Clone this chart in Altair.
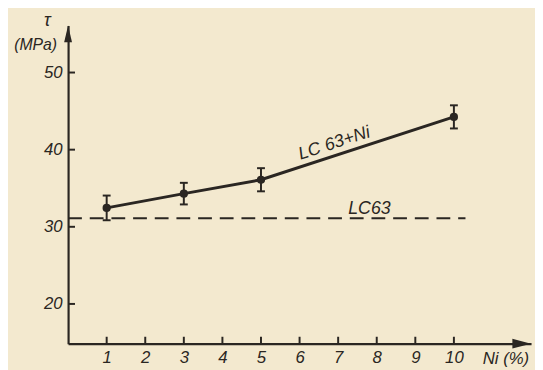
import altair as alt
import pandas as pd

# ---- data ----
ni = [1, 3, 5, 10]
tau = [32.45, 34.3, 36.1, 44.25]
err = [1.6, 1.4, 1.5, 1.5]
lc63_x = [0, 10.3]
lc63_y = [31.1, 31.1]
x_ticks = [1, 2, 3, 4, 5, 6, 7, 8, 9, 10]
y_ticks = [20, 30, 40, 50]

X_MIN, X_MAX = 0, 12.0
Y_MIN, Y_MAX = 14.85, 56.1
W, H = 470, 323

INK = "#2a2622"
BG = "#f3e9cf"
FONT = "Liberation Sans"

pts = pd.DataFrame({"ni": ni, "tau": tau, "lo": [t - e for t, e in zip(tau, err)],
                    "hi": [t + e for t, e in zip(tau, err)]})
dash = pd.DataFrame({"ni": lc63_x, "tau": lc63_y})

xs = alt.Scale(domain=[X_MIN, X_MAX], nice=False, zero=False)
ys = alt.Scale(domain=[Y_MIN, Y_MAX], nice=False, zero=False)

xax = alt.Axis(values=x_ticks, ticks=False, grid=False, domainColor=INK, domainWidth=2.2,
               labelFont=FONT, labelFontSize=17, labelFontStyle="italic", labelColor=INK,
               labelPadding=6, labelFlush=False,
               title="Ni (%)", titleFont=FONT, titleFontSize=17, titleFontStyle="italic",
               titleFontWeight="normal", titleColor=INK, titleX=444, titleY=20,
               titleAlign="center", titleBaseline="alphabetic")
yax = alt.Axis(values=y_ticks, ticks=False, grid=False, domainColor=INK, domainWidth=2.2,
               labelFont=FONT, labelFontSize=17, labelFontStyle="italic", labelColor=INK,
               labelPadding=6, title=None)

base = alt.Chart(pts)

dashed = alt.Chart(dash).mark_line(color=INK, strokeWidth=2, strokeDash=[14, 8]).encode(
    x=alt.X("ni:Q", scale=xs, axis=xax), y=alt.Y("tau:Q", scale=ys, axis=yax))
line = base.mark_line(color=INK, strokeWidth=3).encode(x=alt.X("ni:Q", scale=xs),
                                                        y=alt.Y("tau:Q", scale=ys))
dots = base.mark_circle(color=INK, size=70, opacity=1).encode(x="ni:Q", y="tau:Q")
bars = base.mark_rule(color=INK, strokeWidth=2).encode(x="ni:Q", y="lo:Q", y2="hi:Q")
cap_lo = base.mark_tick(color=INK, orient="horizontal", size=8, thickness=2, opacity=1).encode(
    x="ni:Q", y="lo:Q")
cap_hi = base.mark_tick(color=INK, orient="horizontal", size=8, thickness=2, opacity=1).encode(
    x="ni:Q", y="hi:Q")

yt = alt.Chart(pd.DataFrame({"v": y_ticks})).mark_rule(color=INK, strokeWidth=2).encode(
    y=alt.Y("v:Q", scale=ys), x=alt.value(0), x2=alt.value(7))
xt = alt.Chart(pd.DataFrame({"v": x_ticks})).mark_rule(color=INK, strokeWidth=2).encode(
    x=alt.X("v:Q", scale=xs), y=alt.value(H - 7), y2=alt.value(H))

arrows = pd.DataFrame({
    "x": [0, X_MAX - 9.5 * (X_MAX - X_MIN) / W],
    "y": [Y_MAX - 8.5 * (Y_MAX - Y_MIN) / H, Y_MIN],
})
up = alt.Chart(arrows.iloc[[0]]).mark_point(
    shape="M-0.47,1L0,-1L0.47,1Z", size=289, filled=True, color=INK, opacity=1
).encode(x=alt.X("x:Q", scale=xs), y=alt.Y("y:Q", scale=ys))
right = alt.Chart(arrows.iloc[[1]]).mark_point(
    shape="M-1,-0.53L1,0L-1,0.53Z", size=361, filled=True, color=INK, opacity=1
).encode(x=alt.X("x:Q", scale=xs), y=alt.Y("y:Q", scale=ys))

labels = pd.DataFrame({"x": [6.9, 7.81], "y": [40.8, 32.26], "t": ["LC 63+Ni", "LC63"]})
lab1 = alt.Chart(labels.iloc[[0]]).mark_text(font=FONT, fontSize=18, fontStyle="italic",
                                             color=INK, angle=342, align="center",
                                             baseline="middle").encode(
    x=alt.X("x:Q", scale=xs), y=alt.Y("y:Q", scale=ys), text="t:N")
lab2 = alt.Chart(labels.iloc[[1]]).mark_text(font=FONT, fontSize=18, fontStyle="italic",
                                             color=INK, align="center",
                                             baseline="middle").encode(
    x=alt.X("x:Q", scale=xs), y=alt.Y("y:Q", scale=ys), text="t:N")

tau_t = alt.Chart(pd.DataFrame({"t": ["τ"]})).mark_text(
    font=FONT, fontSize=18, fontStyle="italic", color=INK, align="center", baseline="middle"
).encode(x=alt.value(-21), y=alt.value(-4), text="t:N")
unit_t = alt.Chart(pd.DataFrame({"t": ["(MPa)"]})).mark_text(
    font=FONT, fontSize=16, fontStyle="italic", color=INK, align="center", baseline="alphabetic"
).encode(x=alt.value(-33), y=alt.value(25), text="t:N")

chart = alt.layer(dashed, line, bars, cap_lo, cap_hi, dots, yt, xt, up, right,
                  lab1, lab2, tau_t, unit_t).properties(
    width=W, height=H,
    autosize=alt.AutoSizeParams(type="none"),
    padding={"left": 61, "top": 15, "right": 4, "bottom": 24},
).configure(background=BG).configure_view(stroke=None)

chart.save("out.html", embed_options={"renderer": "svg", "actions": False})
